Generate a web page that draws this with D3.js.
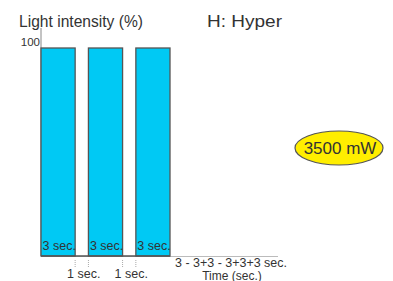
<!DOCTYPE html>
<html><head><meta charset="utf-8">
<script src="https://cdn.jsdelivr.net/npm/d3@7"></script>
<style>body{margin:0;background:#fff}text{font-family:"Liberation Sans",Arial,sans-serif}</style>
</head><body><svg id="c" width="393" height="281"></svg>
<script>
const categories = ["p1", "p2", "p3"];
const values = [100, 100, 100];
const barLabels = ["3 sec.", "3 sec.", "3 sec."];
const gapLabels = ["1 sec.", "1 sec."];
const yTicks = [100];
const title = "Light intensity (%)";
const mode = "H: Hyper";
const power = "3500 mW";
const xLabel1 = "3 - 3+3 - 3+3+3 sec.";
const xLabel2 = "Time (sec.)";

const svg = d3.select("#c");
const x = d3.scaleBand().domain(categories).range([41, 170]).paddingInner(0.28).paddingOuter(0);
const y = d3.scaleLinear().domain([0, 100]).range([256, 48]);

svg.append("line").attr("x1", 41).attr("x2", 41).attr("y1", 28).attr("y2", 256)
  .attr("stroke", "#888").attr("stroke-width", 1);
svg.append("line").attr("x1", 41).attr("x2", 278).attr("y1", 256.5).attr("y2", 256.5)
  .attr("stroke", "#bbb").attr("stroke-width", 1);

svg.selectAll("rect.bar").data(values).join("rect").attr("class", "bar")
  .attr("x", (d, i) => x(categories[i]))
  .attr("y", d => y(d))
  .attr("width", x.bandwidth())
  .attr("height", d => y(0) - y(d))
  .attr("fill", "#00c9f4").attr("stroke", "#555").attr("stroke-width", 1.3);

svg.append("line").attr("x1", 41).attr("x2", x(categories[2]) + x.bandwidth())
  .attr("y1", 256).attr("y2", 256).attr("stroke", "#555").attr("stroke-width", 1.5);

svg.selectAll("text.bl").data(barLabels).join("text").attr("class", "bl")
  .attr("x", (d, i) => x(categories[i]) + 1.5).attr("y", 250)
  .attr("font-size", 12.5).attr("fill", "#333").text(d => d);

gapLabels.forEach((g, i) => {
  const a = x(categories[i]) + x.bandwidth();
  const b = x(categories[i + 1]);
  [a, b].forEach(px => svg.append("line").attr("x1", px).attr("x2", px)
    .attr("y1", 260).attr("y2", 268).attr("stroke", "#aaa").attr("stroke-dasharray", "1,1"));
  svg.append("text").attr("x", (a + b) / 2 + 2).attr("y", 278).attr("text-anchor", "middle")
    .attr("font-size", 12.5).attr("fill", "#333").text(g);
});

svg.selectAll("text.yt").data(yTicks).join("text").attr("class", "yt")
  .attr("x", 40).attr("y", y(100) - 2).attr("text-anchor", "end")
  .attr("font-size", 11.5).attr("fill", "#333").text(d => d);

svg.append("text").attr("x", 19).attr("y", 27).attr("font-size", 16.5)
  .attr("textLength", 124).attr("lengthAdjust", "spacingAndGlyphs").attr("fill", "#333").text(title);
svg.append("text").attr("x", 207).attr("y", 27).attr("font-size", 17)
  .attr("textLength", 75).attr("lengthAdjust", "spacingAndGlyphs").attr("fill", "#333").text(mode);

svg.append("text").attr("x", 231).attr("y", 267).attr("text-anchor", "middle")
  .attr("font-size", 12.5).attr("textLength", 112).attr("lengthAdjust", "spacingAndGlyphs")
  .attr("fill", "#333").text(xLabel1);
svg.append("text").attr("x", 232).attr("y", 279.5).attr("text-anchor", "middle")
  .attr("font-size", 12).attr("fill", "#333").text(xLabel2);

svg.append("ellipse").attr("cx", 339).attr("cy", 148).attr("rx", 44).attr("ry", 17)
  .attr("fill", "#ffee00").attr("stroke", "#555").attr("stroke-width", 1.2);
svg.append("text").attr("x", 340).attr("y", 154).attr("text-anchor", "middle")
  .attr("font-size", 17).attr("fill", "#333").text(power);
</script></body></html>
